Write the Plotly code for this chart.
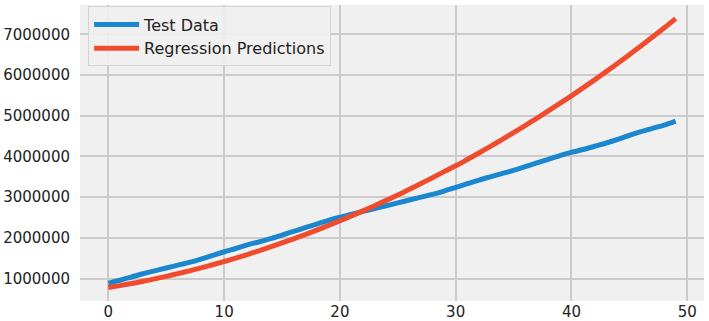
import plotly.graph_objects as go

x_index = list(range(50))

test_data = [
    890000, 960000, 1040000, 1120000, 1190000, 1260000, 1330000, 1400000, 1480000, 1570000,
    1660000, 1740000, 1830000, 1900000, 1980000, 2070000, 2160000, 2250000, 2340000, 2430000,
    2510000, 2580000, 2650000, 2720000, 2790000, 2860000, 2930000, 3000000, 3070000, 3150000,
    3240000, 3330000, 3420000, 3500000, 3580000, 3660000, 3750000, 3840000, 3930000, 4020000,
    4100000, 4170000, 4250000, 4330000, 4420000, 4520000, 4610000, 4690000, 4770000, 4870000,
]

regression_predictions = [
    780000, 828000, 879000, 934000, 993000, 1055000, 1121000, 1190000, 1263000, 1340000,
    1420000, 1504000, 1591000, 1682000, 1777000, 1875000, 1977000, 2082000, 2191000, 2304000,
    2420000, 2540000, 2663000, 2790000, 2921000, 3055000, 3193000, 3334000, 3479000, 3628000,
    3770000, 3926000, 4085000, 4248000, 4415000, 4585000, 4759000, 4936000, 5117000, 5302000,
    5490000, 5684000, 5882000, 6084000, 6290000, 6500000, 6714000, 6932000, 7154000, 7385000,
]

series_names = ["Test Data", "Regression Predictions"]
series_colors = ["#1b87cf", "#f04b2c"]

y_ticks = [1000000, 2000000, 3000000, 4000000, 5000000, 6000000, 7000000]
x_ticks = [0, 10, 20, 30, 40, 50]

fig = go.Figure()
for name, vals, col in zip(series_names, [test_data, regression_predictions], series_colors):
    fig.add_trace(go.Scatter(x=x_index, y=vals, mode="lines", name=name,
                             line=dict(color=col, width=5, shape="spline", smoothing=0.8)))

fig.update_layout(
    width=709, height=321,
    margin=dict(l=80, r=5, t=5, b=20),
    paper_bgcolor="white",
    plot_bgcolor="#f0f0f0",
    font=dict(family="DejaVu Sans", size=15, color="#222222"),
    showlegend=True,
    legend=dict(x=0.013, y=0.995, xanchor="left", yanchor="top",
                bgcolor="rgba(240,240,240,0.9)", bordercolor="#d4d4d4", borderwidth=1,
                font=dict(size=16, color="#222222"), tracegroupgap=0,
                itemwidth=45),
)
fig.update_xaxes(range=[-2.45, 51.45], tickvals=x_ticks, showgrid=True,
                 gridcolor="#cbcbcb", gridwidth=1.5, zeroline=False, showline=False,
                 ticks="", ticklabelstandoff=0, automargin=False)
fig.update_yaxes(range=[450000, 7720000], tickvals=y_ticks, tickformat="d", showgrid=True,
                 gridcolor="#cbcbcb", gridwidth=1.5, zeroline=False, showline=False,
                 ticks="", ticklabelstandoff=9, automargin=False)

fig.write_html("out.html",
               config={"displayModeBar": False},
               post_script="document.body.style.margin='0';document.body.style.padding='0';")
